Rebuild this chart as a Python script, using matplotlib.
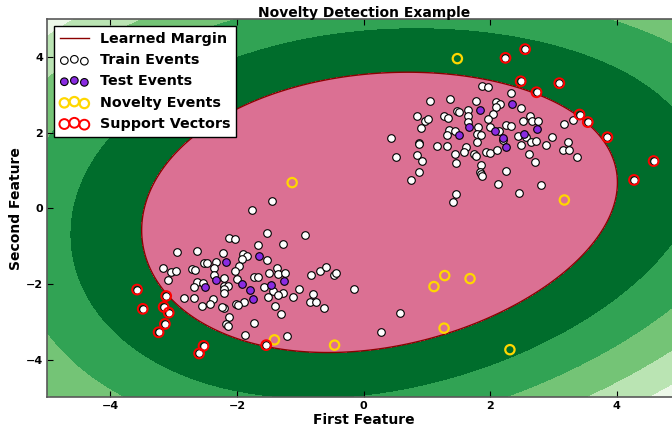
import matplotlib

matplotlib.use("Agg")
import matplotlib.pyplot as plt
import numpy as np

# ---------------------------------------------------------------------------
# Datos
# ---------------------------------------------------------------------------
train_events = [
    # grupo superior
    (1.87, 3.24), (1.97, 3.21), (2.33, 3.06), (1.05, 2.85), (1.36, 2.90), (1.78, 2.85), (2.09, 2.81),
    (2.16, 2.77), (2.09, 2.67), (2.48, 2.65), (1.47, 2.57), (1.51, 2.56), (1.65, 2.59), (0.84, 2.44),
    (1.27, 2.43), (1.33, 2.40), (1.64, 2.43), (2.04, 2.49), (0.97, 2.32), (1.02, 2.35), (1.64, 2.28),
    (1.96, 2.35), (2.63, 2.45), (2.51, 2.32), (2.66, 2.31), (2.76, 2.31), (0.91, 2.12), (1.80, 2.16),
    (2.00, 2.15), (2.25, 2.20), (2.33, 2.19), (3.16, 2.24), (3.31, 2.34), (1.35, 2.06), (1.44, 2.04),
    (2.14, 2.04), (1.32, 1.94), (1.79, 1.97), (1.86, 1.95), (2.43, 1.91), (2.56, 1.88), (2.20, 1.80),
    (2.64, 1.75), (2.72, 1.78), (2.98, 1.89), (1.79, 1.76), (0.43, 1.87), (0.88, 1.74), (0.87, 1.69),
    (1.16, 1.65), (1.32, 1.64), (1.61, 1.62), (2.49, 1.67), (2.88, 1.67), (3.22, 1.75), (3.15, 1.55),
    (3.24, 1.55), (3.37, 1.37), (0.51, 1.37), (0.84, 1.40), (0.92, 1.26), (1.45, 1.43), (1.58, 1.48),
    (1.74, 1.43), (1.77, 1.39), (1.93, 1.48), (2.00, 1.46), (2.10, 1.54), (2.61, 1.43), (2.70, 1.22),
    (1.46, 1.19), (1.86, 1.15), (0.87, 0.95), (0.75, 0.74), (1.83, 0.96), (1.86, 0.92), (1.87, 0.86),
    (2.25, 0.99), (2.12, 0.65), (2.80, 0.62), (2.46, 0.40), (1.46, 0.37), (1.41, 0.17), (-1.76, -0.04),
    (-1.45, 0.19),
    # grupo inferior
    (-1.52, -0.65), (-0.92, -0.71), (-2.13, -0.79), (-2.03, -0.80), (-1.27, -0.94), (-1.67, -0.96),
    (-2.95, -1.16), (-2.63, -1.12), (-2.22, -1.17), (-1.90, -1.21), (-1.84, -1.26), (-1.52, -1.36),
    (-1.92, -1.35), (-2.53, -1.44), (-2.48, -1.46), (-2.34, -1.41), (-1.97, -1.53), (-2.36, -1.58),
    (-3.17, -1.58), (-2.71, -1.61), (-2.67, -1.63), (-2.04, -1.66), (-1.37, -1.57), (-1.49, -1.71),
    (-1.35, -1.74), (-1.24, -1.71), (-3.04, -1.69), (-2.96, -1.66), (-3.09, -1.89), (-2.36, -1.77),
    (-1.74, -1.82), (-1.67, -1.83), (-2.00, -1.86), (-2.20, -1.85), (-2.64, -1.96), (-2.54, -1.98),
    (-2.68, -2.07), (-2.21, -2.06), (-2.14, -2.06), (-2.21, -2.13), (-1.57, -2.09), (-1.43, -2.18),
    (-1.51, -2.35), (-1.27, -2.25), (-1.35, -2.30), (-1.12, -2.34), (-1.02, -2.13), (-1.89, -2.49),
    (-2.38, -2.40), (-2.43, -2.54), (-2.21, -2.25), (-2.21, -2.63), (-2.24, -2.60), (-2.02, -2.53),
    (-1.99, -2.56), (-2.84, -2.37), (-2.68, -2.37), (-2.55, -2.58), (-2.13, -2.87), (-1.40, -2.59),
    (-1.30, -2.80), (-1.74, -3.03), (-2.17, -3.06), (-2.15, -3.11), (-1.88, -3.36), (-1.21, -3.39),
    (-0.84, -1.77), (-0.69, -1.67), (-0.60, -1.55), (-0.47, -1.77), (-0.43, -1.72), (-0.80, -2.26),
    (-0.85, -2.47), (-0.76, -2.47), (-0.63, -2.65), (-0.15, -2.14), (0.57, -2.77), (0.28, -3.27),
]

test_events = [
    (2.35, 2.76), (1.83, 2.59), (1.66, 2.14), (2.07, 2.04), (1.50, 1.95), (2.53, 1.97), (2.74, 2.09),
    (2.20, 1.87), (2.25, 1.62),
    (-1.65, -1.26), (-2.18, -1.43), (-2.33, -1.89), (-2.50, -2.07), (-1.92, -1.99), (-1.26, -1.93),
    (-1.46, -2.03), (-1.80, -2.15), (-1.75, -2.39),
]

novelty_events = [
    (1.48, 3.96), (3.17, 0.22), (-1.13, 0.68), (-1.41, -3.48), (-0.46, -3.62), (1.28, -1.78),
    (1.68, -1.86), (1.11, -2.07), (1.27, -3.17), (2.31, -3.74),
]

support_vectors = [
    (2.24, 3.98), (2.55, 4.21), (2.48, 3.36), (3.09, 3.31), (2.73, 3.07), (3.41, 2.48), (3.54, 2.28),
    (3.85, 1.88), (4.58, 1.25), (4.27, 0.75),
    (-3.58, -2.15), (-3.49, -2.66), (-3.12, -2.32), (-3.16, -2.61), (-3.08, -2.76), (-3.14, -3.06),
    (-3.24, -3.28), (-2.53, -3.64), (-2.60, -3.84), (-1.54, -3.62),
]

# Puntos sobre cada curva de nivel de la funcion de decision (nivel 0 = margen)
margin_pts = [
    (-0.44, 3.39), (1.14, 3.59), (2.15, 3.39), (2.73, 3.07), (3.40, 2.49), (3.73, 1.94), (3.97, 0.62),
    (3.99, 0.09), (3.88, -0.20), (3.25, -1.53), (2.51, -2.41), (1.67, -3.11), (1.14, -3.42),
    (0.35, -3.69), (-0.44, -3.78), (-1.53, -3.60), (-2.59, -3.11), (-3.11, -2.41), (-3.43, -1.53),
    (-3.49, -0.73), (-3.43, -0.20), (-3.11, 1.19), (-2.59, 2.16), (-2.06, 2.78), (-1.27, 3.18),
]
level1_pts = [
    (-0.44, 4.32), (-1.53, 3.84), (-2.80, 3.04), (-3.53, 2.25), (-4.17, 1.37), (-4.48, 0.57),
    (-4.56, -0.20), (-4.55, -1.00), (-4.48, -2.14), (-4.22, -3.11), (-3.64, -4.00), (-2.80, -4.52),
    (-1.53, -4.79), (-0.44, -4.83), (1.14, -4.66), (2.20, -4.09), (3.25, -3.20), (4.20, -2.06),
    (4.87, -0.73), (4.87, 2.78), (4.57, 3.13), (4.04, 3.75), (3.25, 4.28), (2.20, 4.59), (1.14, 4.63),
]
level2_pts = [
    (-2.06, 4.98), (-3.11, 4.45), (-3.90, 3.75), (-4.48, 2.87), (-5.01, 1.19), (-5.01, -3.33),
    (-4.43, -4.00), (-3.90, -4.52), (-3.43, -5.04), (2.20, -5.04), (3.25, -4.44), (4.30, -3.20),
    (4.87, -2.32), (3.56, 5.00), (4.30, 4.63), (4.87, 4.19),
]
level3_pts = [
    (-4.01, 4.98), (-4.48, 4.37), (-5.01, 2.95), (3.46, -5.04), (4.30, -4.26), (4.87, -3.56),
    (-5.01, -4.88), (-4.90, -5.04),
]
level4_pts = [(4.62, -5.04), (4.87, -4.79)]

contour_levels = [0, -1, -2, -3, -4]
band_colors = ["#edf8e9", "#bae4b3", "#74c476", "#31a354", "#006d2c"]
inside_color = "palevioletred"

x_ticks = [-4, -2, 0, 2, 4]
y_ticks = [-4, -2, 0, 2, 4]

# ---------------------------------------------------------------------------
# Ajuste polinomico (grado 3) de la funcion de decision a partir de las
# curvas leidas; el margen pesa mas que las otras curvas
# ---------------------------------------------------------------------------
groups = [margin_pts, level1_pts, level2_pts, level3_pts, level4_pts]
weights = [3.0, 1.5, 1.0, 1.0, 1.0]
pts, z, w = [], [], []
for lvl, group, wt in zip(contour_levels, groups, weights):
    pts += group
    z += [lvl] * len(group)
    w += [wt] * len(group)
pts = np.array(pts)
z = np.array(z, dtype=float)
w = np.array(w)


def monomios(x, y):
    return [np.ones_like(x), x, y, x**2, x * y, y**2, x**3, x**2 * y, x * y**2, y**3]


A = np.column_stack(monomios(pts[:, 0], pts[:, 1]))
coef, *_ = np.linalg.lstsq(A * w[:, None], z * w, rcond=None)

xx, yy = np.meshgrid(np.linspace(-5, 5, 500), np.linspace(-5, 5, 500))
Z = sum(c * m for c, m in zip(coef, monomios(xx, yy)))

# ---------------------------------------------------------------------------
# Figura
# ---------------------------------------------------------------------------
plt.rcParams["font.weight"] = "bold"
plt.rcParams["axes.titleweight"] = "bold"
plt.rcParams["axes.labelweight"] = "bold"

fig = plt.figure(figsize=(6.72, 4.32), dpi=100)
ax = fig.add_axes([0.0702, 0.0803, 0.942, 0.875])

lv = sorted(contour_levels)
ax.contourf(xx, yy, Z, levels=[Z.min() - 1] + lv, colors=band_colors)
ax.contourf(xx, yy, Z, levels=[0, Z.max() + 1], colors=[inside_color])
ax.contour(xx, yy, Z, levels=[0], colors="darkred", linewidths=1)

tr = np.array(train_events + support_vectors)
te = np.array(test_events)
nv = np.array(novelty_events)
sv = np.array(support_vectors)

ax.scatter(tr[:, 0], tr[:, 1], s=30, c="white", edgecolors="black", linewidths=0.8, zorder=3)
ax.scatter(te[:, 0], te[:, 1], s=30, c="blueviolet", edgecolors="black", linewidths=0.8, zorder=4)
ax.scatter(nv[:, 0], nv[:, 1], s=45, facecolors="none", edgecolors="gold", linewidths=1.6, zorder=5)
ax.scatter(sv[:, 0], sv[:, 1], s=50, facecolors="none", edgecolors="red", linewidths=1.4, zorder=5)

h_margin, = ax.plot([], [], color="darkred", linewidth=1)
h_train = ax.scatter([], [], s=30, c="white", edgecolors="black", linewidths=0.8)
h_test = ax.scatter([], [], s=30, c="blueviolet", edgecolors="black", linewidths=0.8)
h_nov = ax.scatter([], [], s=45, facecolors="none", edgecolors="gold", linewidths=1.6)
h_sv = ax.scatter([], [], s=50, facecolors="none", edgecolors="red", linewidths=1.4)
leg = ax.legend(
    [h_margin, h_train, h_test, h_nov, h_sv],
    ["Learned Margin", "Train Events", "Test Events", "Novelty Events", "Support Vectors"],
    loc="upper left",
    scatterpoints=3,
    fancybox=False,
    framealpha=1,
    edgecolor="black",
    prop={"size": 10.3, "weight": "bold"},
)
leg.get_frame().set_linewidth(1)

ax.set_xlim(-5, 5)
ax.set_ylim(-5, 5)
ax.set_xticks(x_ticks)
ax.set_yticks(y_ticks)
ax.tick_params(direction="in", top=True, right=True, length=4, labelsize=8, pad=3)
for s in ax.spines.values():
    s.set_color("0.35")
    s.set_linewidth(1.2)

ax.set_title("Novelty Detection Example", fontsize=10, pad=2)
ax.set_xlabel("First Feature", fontsize=10, labelpad=1)
ax.set_ylabel("Second Feature", fontsize=10, labelpad=2)

fig.savefig("out.png", dpi=100)
